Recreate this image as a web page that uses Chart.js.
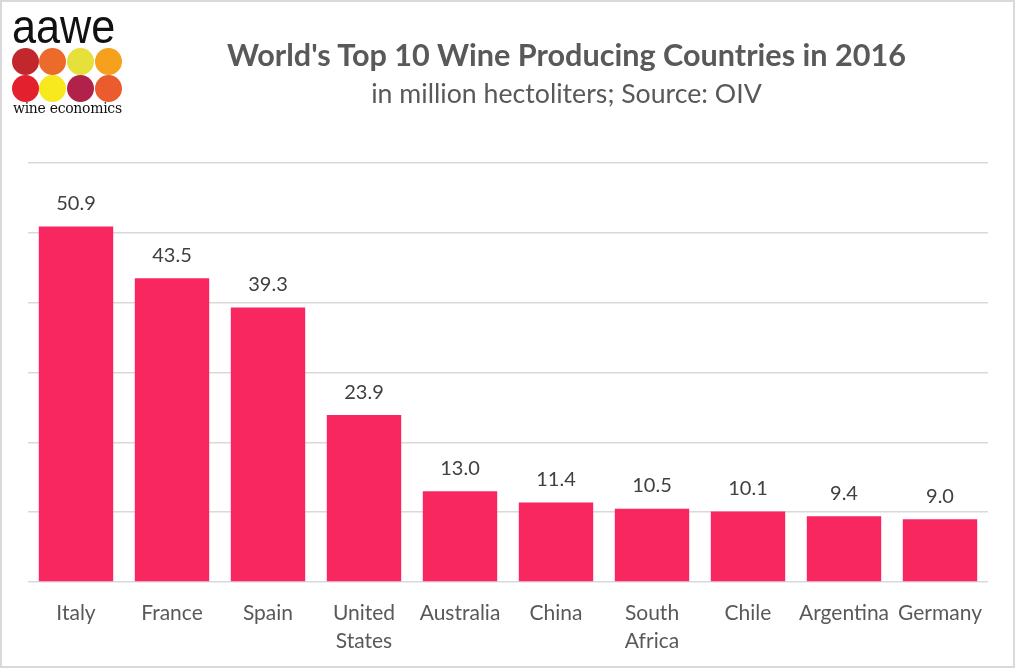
<!DOCTYPE html>
<html>
<head>
<meta charset="utf-8">
<script src="https://cdn.jsdelivr.net/npm/chart.js@4.4.1/dist/chart.umd.min.js"></script>
<style>
  html,body{margin:0;padding:0;background:#fff;}
  #wrap{position:relative;width:1015px;height:668px;box-sizing:border-box;border:2px solid #d9d9d9;overflow:hidden;}
  #c{position:absolute;left:-2px;top:-2px;}
  .t{position:absolute;left:0;width:1129px;text-align:center;color:#595959;font-family:Lato,"Open Sans",sans-serif;white-space:nowrap;line-height:normal;}
  #title{top:34px;font-size:30.6px;font-weight:bold;}
  #sub{top:75px;font-size:26.7px;}
  #logo{position:absolute;left:-2px;top:-2px;width:130px;height:125px;}
  #logo .a{position:absolute;left:12px;top:3px;font-family:"Liberation Sans",Arial,sans-serif;font-size:48px;line-height:48px;color:#111;transform:scaleX(0.9);transform-origin:left top;}
  #logo .d{position:absolute;width:27px;height:27px;border-radius:50%;}
  #logo .w{position:absolute;left:13px;top:100px;font-family:"DejaVu Serif",serif;font-size:14px;color:#111;letter-spacing:-0.3px;}
</style>
</head>
<body>
<div id="wrap">
  <canvas id="c" width="1015" height="668"></canvas>
  <div id="logo">
    <div class="a">aawe</div>
    <div class="d" style="left:12px;top:48px;background:#c1272d"></div>
    <div class="d" style="left:39px;top:48px;background:#ec6a2a"></div>
    <div class="d" style="left:67px;top:48px;background:#e5e03a"></div>
    <div class="d" style="left:95px;top:48px;background:#f5a11e"></div>
    <div class="d" style="left:12px;top:75px;background:#e3202e"></div>
    <div class="d" style="left:39px;top:75px;background:#f8e81e"></div>
    <div class="d" style="left:67px;top:75px;background:#b22149"></div>
    <div class="d" style="left:95px;top:75px;background:#ea5b2e"></div>
    <div class="w">wine economics</div>
  </div>
  <div class="t" id="title">World's Top 10 Wine Producing Countries in 2016</div>
  <div class="t" id="sub">in million hectoliters; Source: OIV</div>
</div>
<script>
const categories = [["Italy"],["France"],["Spain"],["United","States"],["Australia"],["China"],["South","Africa"],["Chile"],["Argentina"],["Germany"]];
const production = [50.9, 43.5, 39.3, 23.9, 13.0, 11.4, 10.5, 10.1, 9.4, 9.0];
const yTicks = [0, 10, 20, 30, 40, 50, 60];

const labelPlugin = {
  id: 'valueLabels',
  afterDatasetsDraw(chart) {
    const ctx = chart.ctx;
    const meta = chart.getDatasetMeta(0);
    ctx.save();
    ctx.fillStyle = '#404040';
    ctx.font = '20px Lato, "Open Sans", sans-serif';
    ctx.textAlign = 'center';
    ctx.textBaseline = 'middle';
    meta.data.forEach((bar, i) => {
      ctx.fillText(production[i].toFixed(1), bar.x, bar.y - 23);
    });
    ctx.restore();
  }
};

new Chart(document.getElementById('c'), {
  type: 'bar',
  data: {
    labels: categories,
    datasets: [{
      data: production,
      backgroundColor: '#f92760',
      categoryPercentage: 1,
      barPercentage: 0.775
    }]
  },
  options: {
    responsive: false,
    animation: false,
    events: [],
    layout: { padding: { left: 28, right: 27, top: 163, bottom: 0 } },
    plugins: { legend: { display: false }, tooltip: { enabled: false }, title: { display: false } },
    scales: {
      x: {
        grid: { display: false },
        border: { display: false },
        ticks: { color: '#595959', font: { family: 'Lato, "Open Sans", sans-serif', size: 21, lineHeight: 1.33 }, padding: 9, maxRotation: 0, autoSkip: false },
        afterFit: s => { s.height = 86; }
      },
      y: {
        min: 0, max: 60,
        afterBuildTicks: s => { s.ticks = yTicks.map(v => ({ value: v })); },
        ticks: { display: false },
        grid: { color: '#d9d9d9', lineWidth: 1.5, drawTicks: false },
        border: { display: false },
        afterFit: s => { s.width = 0; }
      }
    }
  },
  plugins: [labelPlugin]
});
</script>
</body>
</html>
